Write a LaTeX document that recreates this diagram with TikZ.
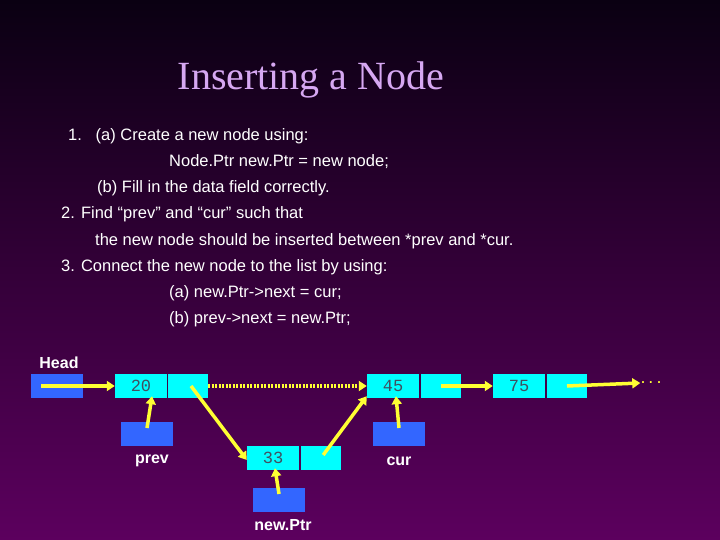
\documentclass[tikz,border=0pt]{standalone}
\usepackage{fontspec}
\setmainfont{Liberation Sans}
\newfontfamily\titlefont{Liberation Serif}
\newfontfamily\monofont{Liberation Mono}
\usetikzlibrary{arrows.meta}
\definecolor{bgtop}{HTML}{0A0012}
\definecolor{bgbot}{HTML}{5C005E}
\definecolor{titlec}{HTML}{D6A8F2}
\definecolor{cyanbox}{HTML}{00FFFF}
\definecolor{bluebox}{HTML}{3366FF}
\definecolor{arrowy}{HTML}{FFFF33}
\definecolor{numc}{HTML}{405060}
\tikzset{
  body/.style={anchor=west,text=white,font=\fontsize{16.5}{18}\selectfont,inner sep=0pt},
  lbl/.style={text=white,font=\fontsize{16}{18}\selectfont\bfseries,inner sep=0pt},
  datab/.style={fill=cyanbox,minimum width=52pt,minimum height=24pt,inner sep=0pt,text=numc,font=\fontsize{17}{18}\selectfont\monofont},
  ptrb/.style={fill=cyanbox,minimum width=40pt,minimum height=24pt,inner sep=0pt},
  varb/.style={fill=bluebox,minimum width=52pt,minimum height=24pt,inner sep=0pt},
  yarr/.style={draw=arrowy,line width=3.5pt,-{Triangle[length=8pt,width=10pt]}},
}
\begin{document}
\begin{tikzpicture}[x=1pt,y=-1pt]
\shade[top color=bgtop,bottom color=bgbot] (0,0) rectangle (720,540);
\useasboundingbox (0,0) rectangle (720,540);
\node[text=titlec,font=\fontsize{40}{44}\selectfont\titlefont,inner sep=0pt] (title) at (311,80) {Inserting a Node};
\node[body] (l1) at (68,136) {1.\ \ \ (a) Create a new node using:};
\node[body] (l2) at (169,162) {Node.Ptr new.Ptr = new node;};
\node[body] (l3) at (97,188) {(b) Fill in the data field correctly.};
\node[body] (l4) at (61,214) {2. Find “prev” and “cur” such that};
\node[body] (l5) at (95,241) {the new node should be inserted between *prev and *cur.};
\node[body] (l6) at (61,267) {3. Connect the new node to the list by using:};
\node[body] (l7) at (169,293) {(a) new.Ptr->next = cur;};
\node[body] (l8) at (169,319) {(b) prev->next = new.Ptr;};

\node[varb] (head) at (57,386) {};
\node[lbl] (headl) at (59,363) {Head};
\node[datab] (d20) at (141,386) {20};
\node[ptrb] (p20) at (188,386) {};
\node[datab] (d45) at (393,386) {45};
\node[ptrb] (p45) at (441,386) {};
\node[datab] (d75) at (519,386) {75};
\node[ptrb] (p75) at (567,386) {};
\node[text=arrowy,font=\fontsize{18}{18}\selectfont,inner sep=0pt] (dots) at (651,383) {.\,.\,.};
\node[varb] (prev) at (147,434) {};
\node[lbl] (prevl) at (152,461) {prev};
\node[varb] (cur) at (399,434) {};
\node[lbl] (curl) at (399,461) {cur};
\node[datab] (d33) at (273,458) {33};
\node[ptrb] (p33) at (321,458) {};
\node[varb] (np) at (279,500) {};
\node[lbl] (npl) at (283,525) {new.Ptr};

\coordinate (c20) at (191,386);
\draw[yarr] ([xshift=-16pt]head.center) -- (d20.west);
\draw[yarr,dash pattern=on 2pt off 1.5pt,line width=4pt] (p20.east) -- (d45.west);
\draw[yarr] (p45.center) -- (d75.west);
\draw[yarr] (p75.center) -- (dots.west);
\draw[yarr] ([yshift=6pt]prev.center) -- ([xshift=11pt,yshift=2pt]d20.south);
\draw[yarr] ([yshift=6pt]cur.center) -- ([xshift=3pt,yshift=2pt]d45.south);
\draw[yarr] ([yshift=6pt]np.center) -- ([xshift=2pt,yshift=2pt]d33.south);
\draw[yarr] (c20) -- ([yshift=-2pt]d33.west);
\draw[yarr] ([xshift=-18pt,yshift=3pt]p33.east) -- ([yshift=2pt]d45.south west);
\end{tikzpicture}
\end{document}
